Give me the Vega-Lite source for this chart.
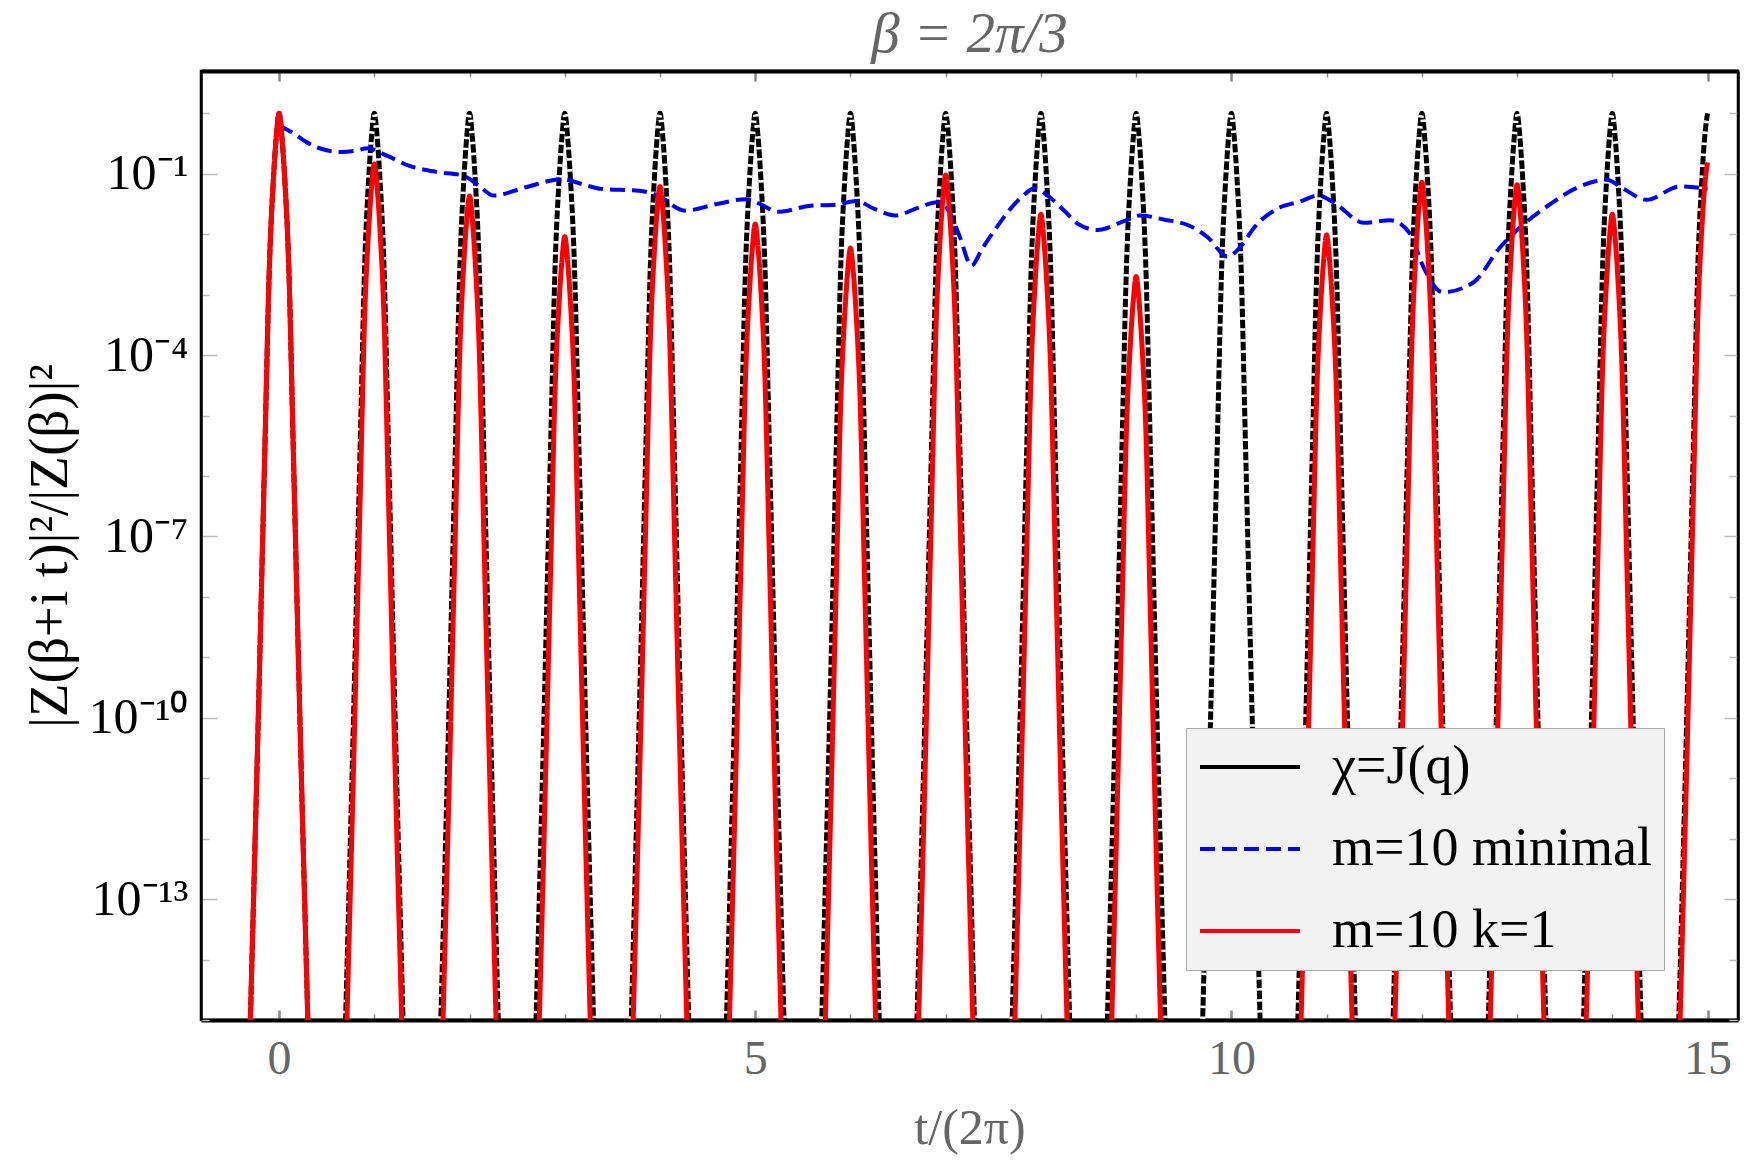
{
  "$schema": "https://vega.github.io/schema/vega-lite/v6.json",
  "width": 1537,
  "height": 949,
  "autosize": {"type": "none"},
  "padding": {"left": 201, "top": 71, "right": 12, "bottom": 143},
  "background": "white",
  "title": {
    "text": "β = 2π/3",
    "font": "Liberation Serif",
    "fontSize": 57,
    "fontStyle": "italic",
    "fontWeight": "normal",
    "color": "#666666",
    "anchor": "middle",
    "offset": 6
  },
  "config": {
    "view": {"stroke": "black", "strokeWidth": 2.5},
    "legend": {
      "orient": "none",
      "legendX": 985,
      "legendY": 657,
      "title": null,
      "fillColor": "#f2f2f2",
      "strokeColor": "#aaaaaa",
      "padding": 12,
      "symbolType": "M-1,0H3",
      "symbolSize": 2500,
      "symbolStrokeWidth": 4,
      "labelFont": "Liberation Serif",
      "labelFontSize": 54,
      "labelColor": "black",
      "labelOffset": 80,
      "labelLimit": 800,
      "rowPadding": 28
    }
  },
  "datasets": {
    "chi": [
      {"t": -0.4, "y": 1.58e-21}, {"t": -0.3, "y": 1.26e-15}, {"t": -0.22, "y": 7.94e-11}, {"t": -0.15, "y": 2.51e-6}, {"t": -0.1, "y": 3.55e-3}, {"t": -0.06, "y": 7.94e-2}, {"t": -0.03, "y": 0.398}, {"t": 0, "y": 1}, {"t": 0.03, "y": 0.398}, {"t": 0.06, "y": 7.94e-2}, {"t": 0.1, "y": 3.55e-3}, {"t": 0.15, "y": 2.51e-6}, {"t": 0.22, "y": 7.94e-11}, {"t": 0.3, "y": 1.26e-15}, {"t": 0.4, "y": 1.58e-21},
      {"t": 0.6, "y": 1.58e-21}, {"t": 0.7, "y": 1.26e-15}, {"t": 0.78, "y": 7.94e-11}, {"t": 0.85, "y": 2.51e-6}, {"t": 0.9, "y": 3.55e-3}, {"t": 0.94, "y": 7.94e-2}, {"t": 0.97, "y": 0.398}, {"t": 1, "y": 1}, {"t": 1.03, "y": 0.398}, {"t": 1.06, "y": 7.94e-2}, {"t": 1.1, "y": 3.55e-3}, {"t": 1.15, "y": 2.51e-6}, {"t": 1.22, "y": 7.94e-11}, {"t": 1.3, "y": 1.26e-15}, {"t": 1.4, "y": 1.58e-21},
      {"t": 1.6, "y": 1.58e-21}, {"t": 1.7, "y": 1.26e-15}, {"t": 1.78, "y": 7.94e-11}, {"t": 1.85, "y": 2.51e-6}, {"t": 1.9, "y": 3.55e-3}, {"t": 1.94, "y": 7.94e-2}, {"t": 1.97, "y": 0.398}, {"t": 2, "y": 1}, {"t": 2.03, "y": 0.398}, {"t": 2.06, "y": 7.94e-2}, {"t": 2.1, "y": 3.55e-3}, {"t": 2.15, "y": 2.51e-6}, {"t": 2.22, "y": 7.94e-11}, {"t": 2.3, "y": 1.26e-15}, {"t": 2.4, "y": 1.58e-21},
      {"t": 2.6, "y": 1.58e-21}, {"t": 2.7, "y": 1.26e-15}, {"t": 2.78, "y": 7.94e-11}, {"t": 2.85, "y": 2.51e-6}, {"t": 2.9, "y": 3.55e-3}, {"t": 2.94, "y": 7.94e-2}, {"t": 2.97, "y": 0.398}, {"t": 3, "y": 1}, {"t": 3.03, "y": 0.398}, {"t": 3.06, "y": 7.94e-2}, {"t": 3.1, "y": 3.55e-3}, {"t": 3.15, "y": 2.51e-6}, {"t": 3.22, "y": 7.94e-11}, {"t": 3.3, "y": 1.26e-15}, {"t": 3.4, "y": 1.58e-21},
      {"t": 3.6, "y": 1.58e-21}, {"t": 3.7, "y": 1.26e-15}, {"t": 3.78, "y": 7.94e-11}, {"t": 3.85, "y": 2.51e-6}, {"t": 3.9, "y": 3.55e-3}, {"t": 3.94, "y": 7.94e-2}, {"t": 3.97, "y": 0.398}, {"t": 4, "y": 1}, {"t": 4.03, "y": 0.398}, {"t": 4.06, "y": 7.94e-2}, {"t": 4.1, "y": 3.55e-3}, {"t": 4.15, "y": 2.51e-6}, {"t": 4.22, "y": 7.94e-11}, {"t": 4.3, "y": 1.26e-15}, {"t": 4.4, "y": 1.58e-21},
      {"t": 4.6, "y": 1.58e-21}, {"t": 4.7, "y": 1.26e-15}, {"t": 4.78, "y": 7.94e-11}, {"t": 4.85, "y": 2.51e-6}, {"t": 4.9, "y": 3.55e-3}, {"t": 4.94, "y": 7.94e-2}, {"t": 4.97, "y": 0.398}, {"t": 5, "y": 1}, {"t": 5.03, "y": 0.398}, {"t": 5.06, "y": 7.94e-2}, {"t": 5.1, "y": 3.55e-3}, {"t": 5.15, "y": 2.51e-6}, {"t": 5.22, "y": 7.94e-11}, {"t": 5.3, "y": 1.26e-15}, {"t": 5.4, "y": 1.58e-21},
      {"t": 5.6, "y": 1.58e-21}, {"t": 5.7, "y": 1.26e-15}, {"t": 5.78, "y": 7.94e-11}, {"t": 5.85, "y": 2.51e-6}, {"t": 5.9, "y": 3.55e-3}, {"t": 5.94, "y": 7.94e-2}, {"t": 5.97, "y": 0.398}, {"t": 6, "y": 1}, {"t": 6.03, "y": 0.398}, {"t": 6.06, "y": 7.94e-2}, {"t": 6.1, "y": 3.55e-3}, {"t": 6.15, "y": 2.51e-6}, {"t": 6.22, "y": 7.94e-11}, {"t": 6.3, "y": 1.26e-15}, {"t": 6.4, "y": 1.58e-21},
      {"t": 6.6, "y": 1.58e-21}, {"t": 6.7, "y": 1.26e-15}, {"t": 6.78, "y": 7.94e-11}, {"t": 6.85, "y": 2.51e-6}, {"t": 6.9, "y": 3.55e-3}, {"t": 6.94, "y": 7.94e-2}, {"t": 6.97, "y": 0.398}, {"t": 7, "y": 1}, {"t": 7.03, "y": 0.398}, {"t": 7.06, "y": 7.94e-2}, {"t": 7.1, "y": 3.55e-3}, {"t": 7.15, "y": 2.51e-6}, {"t": 7.22, "y": 7.94e-11}, {"t": 7.3, "y": 1.26e-15}, {"t": 7.4, "y": 1.58e-21},
      {"t": 7.6, "y": 1.58e-21}, {"t": 7.7, "y": 1.26e-15}, {"t": 7.78, "y": 7.94e-11}, {"t": 7.85, "y": 2.51e-6}, {"t": 7.9, "y": 3.55e-3}, {"t": 7.94, "y": 7.94e-2}, {"t": 7.97, "y": 0.398}, {"t": 8, "y": 1}, {"t": 8.03, "y": 0.398}, {"t": 8.06, "y": 7.94e-2}, {"t": 8.1, "y": 3.55e-3}, {"t": 8.15, "y": 2.51e-6}, {"t": 8.22, "y": 7.94e-11}, {"t": 8.3, "y": 1.26e-15}, {"t": 8.4, "y": 1.58e-21},
      {"t": 8.6, "y": 1.58e-21}, {"t": 8.7, "y": 1.26e-15}, {"t": 8.78, "y": 7.94e-11}, {"t": 8.85, "y": 2.51e-6}, {"t": 8.9, "y": 3.55e-3}, {"t": 8.94, "y": 7.94e-2}, {"t": 8.97, "y": 0.398}, {"t": 9, "y": 1}, {"t": 9.03, "y": 0.398}, {"t": 9.06, "y": 7.94e-2}, {"t": 9.1, "y": 3.55e-3}, {"t": 9.15, "y": 2.51e-6}, {"t": 9.22, "y": 7.94e-11}, {"t": 9.3, "y": 1.26e-15}, {"t": 9.4, "y": 1.58e-21},
      {"t": 9.6, "y": 1.58e-21}, {"t": 9.7, "y": 1.26e-15}, {"t": 9.78, "y": 7.94e-11}, {"t": 9.85, "y": 2.51e-6}, {"t": 9.9, "y": 3.55e-3}, {"t": 9.94, "y": 7.94e-2}, {"t": 9.97, "y": 0.398}, {"t": 10, "y": 1}, {"t": 10.03, "y": 0.398}, {"t": 10.06, "y": 7.94e-2}, {"t": 10.1, "y": 3.55e-3}, {"t": 10.15, "y": 2.51e-6}, {"t": 10.22, "y": 7.94e-11}, {"t": 10.3, "y": 1.26e-15}, {"t": 10.4, "y": 1.58e-21},
      {"t": 10.6, "y": 1.58e-21}, {"t": 10.7, "y": 1.26e-15}, {"t": 10.78, "y": 7.94e-11}, {"t": 10.85, "y": 2.51e-6}, {"t": 10.9, "y": 3.55e-3}, {"t": 10.94, "y": 7.94e-2}, {"t": 10.97, "y": 0.398}, {"t": 11, "y": 1}, {"t": 11.03, "y": 0.398}, {"t": 11.06, "y": 7.94e-2}, {"t": 11.1, "y": 3.55e-3}, {"t": 11.15, "y": 2.51e-6}, {"t": 11.22, "y": 7.94e-11}, {"t": 11.3, "y": 1.26e-15}, {"t": 11.4, "y": 1.58e-21},
      {"t": 11.6, "y": 1.58e-21}, {"t": 11.7, "y": 1.26e-15}, {"t": 11.78, "y": 7.94e-11}, {"t": 11.85, "y": 2.51e-6}, {"t": 11.9, "y": 3.55e-3}, {"t": 11.94, "y": 7.94e-2}, {"t": 11.97, "y": 0.398}, {"t": 12, "y": 1}, {"t": 12.03, "y": 0.398}, {"t": 12.06, "y": 7.94e-2}, {"t": 12.1, "y": 3.55e-3}, {"t": 12.15, "y": 2.51e-6}, {"t": 12.22, "y": 7.94e-11}, {"t": 12.3, "y": 1.26e-15}, {"t": 12.4, "y": 1.58e-21},
      {"t": 12.6, "y": 1.58e-21}, {"t": 12.7, "y": 1.26e-15}, {"t": 12.78, "y": 7.94e-11}, {"t": 12.85, "y": 2.51e-6}, {"t": 12.9, "y": 3.55e-3}, {"t": 12.94, "y": 7.94e-2}, {"t": 12.97, "y": 0.398}, {"t": 13, "y": 1}, {"t": 13.03, "y": 0.398}, {"t": 13.06, "y": 7.94e-2}, {"t": 13.1, "y": 3.55e-3}, {"t": 13.15, "y": 2.51e-6}, {"t": 13.22, "y": 7.94e-11}, {"t": 13.3, "y": 1.26e-15}, {"t": 13.4, "y": 1.58e-21},
      {"t": 13.6, "y": 1.58e-21}, {"t": 13.7, "y": 1.26e-15}, {"t": 13.78, "y": 7.94e-11}, {"t": 13.85, "y": 2.51e-6}, {"t": 13.9, "y": 3.55e-3}, {"t": 13.94, "y": 7.94e-2}, {"t": 13.97, "y": 0.398}, {"t": 14, "y": 1}, {"t": 14.03, "y": 0.398}, {"t": 14.06, "y": 7.94e-2}, {"t": 14.1, "y": 3.55e-3}, {"t": 14.15, "y": 2.51e-6}, {"t": 14.22, "y": 7.94e-11}, {"t": 14.3, "y": 1.26e-15}, {"t": 14.4, "y": 1.58e-21},
      {"t": 14.6, "y": 1.58e-21}, {"t": 14.7, "y": 1.26e-15}, {"t": 14.78, "y": 7.94e-11}, {"t": 14.85, "y": 2.51e-6}, {"t": 14.9, "y": 3.55e-3}, {"t": 14.94, "y": 7.94e-2}, {"t": 14.97, "y": 0.398}, {"t": 15, "y": 1}
    ],
    "kone": [
      {"t": -0.4, "y": 1.58e-21}, {"t": -0.3, "y": 1.26e-15}, {"t": -0.22, "y": 7.94e-11}, {"t": -0.15, "y": 2.51e-6}, {"t": -0.1, "y": 3.55e-3}, {"t": -0.06, "y": 7.94e-2}, {"t": -0.03, "y": 0.398}, {"t": 0, "y": 1}, {"t": 0.03, "y": 0.398}, {"t": 0.06, "y": 7.94e-2}, {"t": 0.1, "y": 3.55e-3}, {"t": 0.15, "y": 2.51e-6}, {"t": 0.22, "y": 7.94e-11}, {"t": 0.3, "y": 1.26e-15}, {"t": 0.4, "y": 1.58e-21},
      {"t": 0.6, "y": 2.291e-22}, {"t": 0.7, "y": 1.82e-16}, {"t": 0.78, "y": 1.148e-11}, {"t": 0.85, "y": 3.631e-7}, {"t": 0.9, "y": 5.129e-4}, {"t": 0.94, "y": 1.148e-2}, {"t": 0.97, "y": 5.754e-2}, {"t": 1, "y": 0.1445}, {"t": 1.03, "y": 5.754e-2}, {"t": 1.06, "y": 1.148e-2}, {"t": 1.1, "y": 5.129e-4}, {"t": 1.15, "y": 3.631e-7}, {"t": 1.22, "y": 1.148e-11}, {"t": 1.3, "y": 1.82e-16}, {"t": 1.4, "y": 2.291e-22},
      {"t": 1.6, "y": 6.761e-23}, {"t": 1.7, "y": 5.37e-17}, {"t": 1.78, "y": 3.388e-12}, {"t": 1.85, "y": 1.072e-7}, {"t": 1.9, "y": 1.514e-4}, {"t": 1.94, "y": 3.388e-3}, {"t": 1.97, "y": 1.698e-2}, {"t": 2, "y": 4.266e-2}, {"t": 2.03, "y": 1.698e-2}, {"t": 2.06, "y": 3.388e-3}, {"t": 2.1, "y": 1.514e-4}, {"t": 2.15, "y": 1.072e-7}, {"t": 2.22, "y": 3.388e-12}, {"t": 2.3, "y": 5.37e-17}, {"t": 2.4, "y": 6.761e-23},
      {"t": 2.6, "y": 1.445e-23}, {"t": 2.7, "y": 1.148e-17}, {"t": 2.78, "y": 7.244e-13}, {"t": 2.85, "y": 2.291e-8}, {"t": 2.9, "y": 3.236e-5}, {"t": 2.94, "y": 7.244e-4}, {"t": 2.97, "y": 3.631e-3}, {"t": 3, "y": 9.12e-3}, {"t": 3.03, "y": 3.631e-3}, {"t": 3.06, "y": 7.244e-4}, {"t": 3.1, "y": 3.236e-5}, {"t": 3.15, "y": 2.291e-8}, {"t": 3.22, "y": 7.244e-13}, {"t": 3.3, "y": 1.148e-17}, {"t": 3.4, "y": 1.445e-23},
      {"t": 3.6, "y": 9.772e-23}, {"t": 3.7, "y": 7.762e-17}, {"t": 3.78, "y": 4.898e-12}, {"t": 3.85, "y": 1.549e-7}, {"t": 3.9, "y": 2.188e-4}, {"t": 3.94, "y": 4.898e-3}, {"t": 3.97, "y": 2.455e-2}, {"t": 4, "y": 6.166e-2}, {"t": 4.03, "y": 2.455e-2}, {"t": 4.06, "y": 4.898e-3}, {"t": 4.1, "y": 2.188e-4}, {"t": 4.15, "y": 1.549e-7}, {"t": 4.22, "y": 4.898e-12}, {"t": 4.3, "y": 7.762e-17}, {"t": 4.4, "y": 9.772e-23},
      {"t": 4.6, "y": 2.344e-23}, {"t": 4.7, "y": 1.862e-17}, {"t": 4.78, "y": 1.175e-12}, {"t": 4.85, "y": 3.715e-8}, {"t": 4.9, "y": 5.248e-5}, {"t": 4.94, "y": 1.175e-3}, {"t": 4.97, "y": 5.888e-3}, {"t": 5, "y": 1.479e-2}, {"t": 5.03, "y": 5.888e-3}, {"t": 5.06, "y": 1.175e-3}, {"t": 5.1, "y": 5.248e-5}, {"t": 5.15, "y": 3.715e-8}, {"t": 5.22, "y": 1.175e-12}, {"t": 5.3, "y": 1.862e-17}, {"t": 5.4, "y": 2.344e-23},
      {"t": 5.6, "y": 9.333e-24}, {"t": 5.7, "y": 7.413e-18}, {"t": 5.78, "y": 4.677e-13}, {"t": 5.85, "y": 1.479e-8}, {"t": 5.9, "y": 2.089e-5}, {"t": 5.94, "y": 4.677e-4}, {"t": 5.97, "y": 2.344e-3}, {"t": 6, "y": 5.888e-3}, {"t": 6.03, "y": 2.344e-3}, {"t": 6.06, "y": 4.677e-4}, {"t": 6.1, "y": 2.089e-5}, {"t": 6.15, "y": 1.479e-8}, {"t": 6.22, "y": 4.677e-13}, {"t": 6.3, "y": 7.413e-18}, {"t": 6.4, "y": 9.333e-24},
      {"t": 6.6, "y": 1.514e-22}, {"t": 6.7, "y": 1.202e-16}, {"t": 6.78, "y": 7.586e-12}, {"t": 6.85, "y": 2.399e-7}, {"t": 6.9, "y": 3.388e-4}, {"t": 6.94, "y": 7.586e-3}, {"t": 6.97, "y": 3.802e-2}, {"t": 7, "y": 9.55e-2}, {"t": 7.03, "y": 3.802e-2}, {"t": 7.06, "y": 7.586e-3}, {"t": 7.1, "y": 3.388e-4}, {"t": 7.15, "y": 2.399e-7}, {"t": 7.22, "y": 7.586e-12}, {"t": 7.3, "y": 1.202e-16}, {"t": 7.4, "y": 1.514e-22},
      {"t": 7.6, "y": 3.388e-23}, {"t": 7.7, "y": 2.692e-17}, {"t": 7.78, "y": 1.698e-12}, {"t": 7.85, "y": 5.37e-8}, {"t": 7.9, "y": 7.586e-5}, {"t": 7.94, "y": 1.698e-3}, {"t": 7.97, "y": 8.511e-3}, {"t": 8, "y": 2.138e-2}, {"t": 8.03, "y": 8.511e-3}, {"t": 8.06, "y": 1.698e-3}, {"t": 8.1, "y": 7.586e-5}, {"t": 8.15, "y": 5.37e-8}, {"t": 8.22, "y": 1.698e-12}, {"t": 8.3, "y": 2.692e-17}, {"t": 8.4, "y": 3.388e-23},
      {"t": 8.6, "y": 3.162e-24}, {"t": 8.7, "y": 2.512e-18}, {"t": 8.78, "y": 1.585e-13}, {"t": 8.85, "y": 5.012e-9}, {"t": 8.9, "y": 7.079e-6}, {"t": 8.94, "y": 1.585e-4}, {"t": 8.97, "y": 7.943e-4}, {"t": 9, "y": 1.995e-3}, {"t": 9.03, "y": 7.943e-4}, {"t": 9.06, "y": 1.585e-4}, {"t": 9.1, "y": 7.079e-6}, {"t": 9.15, "y": 5.012e-9}, {"t": 9.22, "y": 1.585e-13}, {"t": 9.3, "y": 2.512e-18}, {"t": 9.4, "y": 3.162e-24},
      {"t": 10.6, "y": 1.549e-23}, {"t": 10.7, "y": 1.23e-17}, {"t": 10.78, "y": 7.762e-13}, {"t": 10.85, "y": 2.455e-8}, {"t": 10.9, "y": 3.467e-5}, {"t": 10.94, "y": 7.762e-4}, {"t": 10.97, "y": 3.89e-3}, {"t": 11, "y": 9.772e-3}, {"t": 11.03, "y": 3.89e-3}, {"t": 11.06, "y": 7.762e-4}, {"t": 11.1, "y": 3.467e-5}, {"t": 11.15, "y": 2.455e-8}, {"t": 11.22, "y": 7.762e-13}, {"t": 11.3, "y": 1.23e-17}, {"t": 11.4, "y": 1.549e-23},
      {"t": 11.6, "y": 1.148e-22}, {"t": 11.7, "y": 9.12e-17}, {"t": 11.78, "y": 5.754e-12}, {"t": 11.85, "y": 1.82e-7}, {"t": 11.9, "y": 2.57e-4}, {"t": 11.94, "y": 5.754e-3}, {"t": 11.97, "y": 2.884e-2}, {"t": 12, "y": 7.244e-2}, {"t": 12.03, "y": 2.884e-2}, {"t": 12.06, "y": 5.754e-3}, {"t": 12.1, "y": 2.57e-4}, {"t": 12.15, "y": 1.82e-7}, {"t": 12.22, "y": 5.754e-12}, {"t": 12.3, "y": 9.12e-17}, {"t": 12.4, "y": 1.148e-22},
      {"t": 12.6, "y": 1.047e-22}, {"t": 12.7, "y": 8.318e-17}, {"t": 12.78, "y": 5.248e-12}, {"t": 12.85, "y": 1.66e-7}, {"t": 12.9, "y": 2.344e-4}, {"t": 12.94, "y": 5.248e-3}, {"t": 12.97, "y": 2.63e-2}, {"t": 13, "y": 6.607e-2}, {"t": 13.03, "y": 2.63e-2}, {"t": 13.06, "y": 5.248e-3}, {"t": 13.1, "y": 2.344e-4}, {"t": 13.15, "y": 1.66e-7}, {"t": 13.22, "y": 5.248e-12}, {"t": 13.3, "y": 8.318e-17}, {"t": 13.4, "y": 1.047e-22},
      {"t": 13.6, "y": 3.388e-23}, {"t": 13.7, "y": 2.692e-17}, {"t": 13.78, "y": 1.698e-12}, {"t": 13.85, "y": 5.37e-8}, {"t": 13.9, "y": 7.586e-5}, {"t": 13.94, "y": 1.698e-3}, {"t": 13.97, "y": 8.511e-3}, {"t": 14, "y": 2.138e-2}, {"t": 14.03, "y": 8.511e-3}, {"t": 14.06, "y": 1.698e-3}, {"t": 14.1, "y": 7.586e-5}, {"t": 14.15, "y": 5.37e-8}, {"t": 14.22, "y": 1.698e-12}, {"t": 14.3, "y": 2.692e-17}, {"t": 14.4, "y": 3.388e-23},
      {"t": 14.6, "y": 2.455e-22}, {"t": 14.7, "y": 1.95e-16}, {"t": 14.78, "y": 1.23e-11}, {"t": 14.85, "y": 3.89e-7}, {"t": 14.9, "y": 5.495e-4}, {"t": 14.94, "y": 1.23e-2}, {"t": 14.97, "y": 6.166e-2}, {"t": 15, "y": 0.1549}
    ],
    "minimal": [
      {"t": 0, "y": 0.631}, {"t": 0.15, "y": 0.4677}, {"t": 0.29, "y": 0.3311}, {"t": 0.45, "y": 0.257}, {"t": 0.65, "y": 0.2291}, {"t": 0.8, "y": 0.2399}, {"t": 0.93, "y": 0.263}, {"t": 1.13, "y": 0.1995}, {"t": 1.37, "y": 0.1349}, {"t": 1.65, "y": 0.1072}, {"t": 1.93, "y": 9.333e-2}, {"t": 2.1, "y": 6.31e-2}, {"t": 2.25, "y": 4.365e-2}, {"t": 2.6, "y": 6.026e-2}, {"t": 2.97, "y": 8.128e-2}, {"t": 3.2, "y": 6.607e-2}, {"t": 3.38, "y": 5.623e-2}, {"t": 3.78, "y": 5.248e-2}, {"t": 3.98, "y": 4.365e-2}, {"t": 4.26, "y": 2.455e-2}, {"t": 4.6, "y": 3.162e-2}, {"t": 4.9, "y": 3.802e-2}, {"t": 5.05, "y": 3.162e-2}, {"t": 5.24, "y": 2.344e-2}, {"t": 5.58, "y": 2.951e-2}, {"t": 5.86, "y": 3.09e-2}, {"t": 6.06, "y": 3.548e-2}, {"t": 6.25, "y": 2.63e-2}, {"t": 6.47, "y": 2.042e-2}, {"t": 6.7, "y": 2.692e-2}, {"t": 6.91, "y": 3.388e-2}, {"t": 7.03, "y": 2.455e-2}, {"t": 7.15, "y": 8.913e-3}, {"t": 7.27, "y": 3.02e-3}, {"t": 7.38, "y": 5.623e-3}, {"t": 7.51, "y": 1.148e-2}, {"t": 7.83, "y": 4.571e-2}, {"t": 7.93, "y": 5.754e-2}, {"t": 8.07, "y": 4.365e-2}, {"t": 8.25, "y": 2.399e-2}, {"t": 8.39, "y": 1.479e-2}, {"t": 8.59, "y": 1.175e-2}, {"t": 8.88, "y": 1.66e-2}, {"t": 9.04, "y": 2.042e-2}, {"t": 9.3, "y": 1.738e-2}, {"t": 9.56, "y": 1.38e-2}, {"t": 9.75, "y": 8.913e-3}, {"t": 9.96, "y": 4.266e-3}, {"t": 10.1, "y": 6.31e-3}, {"t": 10.24, "y": 1.288e-2}, {"t": 10.48, "y": 2.63e-2}, {"t": 10.72, "y": 3.467e-2}, {"t": 10.91, "y": 4.365e-2}, {"t": 11.07, "y": 3.388e-2}, {"t": 11.39, "y": 1.549e-2}, {"t": 11.67, "y": 1.698e-2}, {"t": 11.88, "y": 1.0e-2}, {"t": 12.01, "y": 3.02e-3}, {"t": 12.22, "y": 1.096e-3}, {"t": 12.54, "y": 1.585e-3}, {"t": 12.82, "y": 6.026e-3}, {"t": 13.03, "y": 1.288e-2}, {"t": 13.35, "y": 3.162e-2}, {"t": 13.63, "y": 5.888e-2}, {"t": 13.94, "y": 7.943e-2}, {"t": 14.12, "y": 5.623e-2}, {"t": 14.36, "y": 3.715e-2}, {"t": 14.71, "y": 6.166e-2}, {"t": 15, "y": 5.623e-2}
    ]
  },
  "resolve": {"axis": {"x": "independent", "y": "independent"}},
  "layer": [
    {
      "data": {"name": "chi"},
      "mark": {"type": "line", "interpolate": "monotone", "strokeWidth": 5, "clip": true},
      "encoding": {
        "x": {
          "field": "t", "type": "quantitative",
          "scale": {"domain": [-0.82, 15.32], "nice": false, "zero": false},
          "axis": {
            "orient": "bottom",
            "values": [0, 1, 2, 3, 4, 5, 6, 7, 8, 9, 10, 11, 12, 13, 14, 15],
            "labelExpr": "datum.value % 5 === 0 ? datum.label : ''",
            "labelFont": "Liberation Serif", "labelFontSize": 48, "labelColor": "#666666",
            "labelAngle": 0, "labelFlush": false, "labelOverlap": false, "labelPadding": 25,
            "tickColor": "#888888",
            "tickSize": {"condition": {"test": "datum.value % 5 === 0", "value": -10}, "value": -6},
            "tickWidth": {"condition": {"test": "datum.value % 5 === 0", "value": 2.5}, "value": 1.5},
            "domainColor": "black", "domainWidth": 4, "grid": false,
            "title": "t/(2π)", "titleFont": "Liberation Serif", "titleFontSize": 50,
            "titleFontWeight": "normal", "titleColor": "#666666", "titlePadding": 16
          }
        },
        "y": {
          "field": "y", "type": "quantitative",
          "scale": {"type": "log", "domain": [1e-15, 5.012], "nice": false},
          "axis": {
            "orient": "left",
            "values": [1, 0.1, 0.01, 0.001, 1e-4, 1e-5, 1e-6, 1e-7, 1e-8, 1e-9, 1e-10, 1e-11, 1e-12, 1e-13, 1e-14, 1e-15],
            "labelExpr": "round(-log(datum.value)/LN10) == 1 ? '10⁻¹' : round(-log(datum.value)/LN10) == 4 ? '10⁻⁴' : round(-log(datum.value)/LN10) == 7 ? '10⁻⁷' : round(-log(datum.value)/LN10) == 10 ? '10⁻¹⁰' : round(-log(datum.value)/LN10) == 13 ? '10⁻¹³' : ''",
            "labelFont": "Liberation Serif", "labelFontSize": 50, "labelColor": "black",
            "labelFlush": false, "labelOverlap": false, "labelPadding": 29, "labelBaseline": "middle",
            "tickColor": "#bbbbbb", "tickWidth": 1.5,
            "tickSize": {"condition": {"test": "round(-log(datum.value)/LN10) % 3 == 1", "value": -16}, "value": -8},
            "domainColor": "black", "domainWidth": 2.5, "grid": false,
            "title": "|Z(β+i t)|²/|Z(β)|²", "titleFont": "Liberation Serif", "titleFontSize": 55,
            "titleFontWeight": "normal", "titleColor": "black", "titlePadding": 10
          }
        },
        "color": {
          "datum": "χ=J(q)", "type": "nominal",
          "scale": {"domain": ["χ=J(q)", "m=10 minimal", "m=10 k=1"], "range": ["#000000", "#0000ff", "#ff0000"]}
        },
        "strokeDash": {
          "datum": "χ=J(q)", "type": "nominal",
          "scale": {"domain": ["χ=J(q)", "m=10 minimal", "m=10 k=1"], "range": [[1, 0], [15, 7], [1, 0]]}
        }
      }
    },
    {
      "data": {"name": "chi"},
      "mark": {"type": "line", "interpolate": "monotone", "strokeWidth": 5.5, "color": "white", "strokeDash": [2.5, 8.5], "clip": true},
      "encoding": {
        "x": {
          "field": "t", "type": "quantitative",
          "scale": {"domain": [-0.82, 15.32], "nice": false, "zero": false},
          "axis": {
            "orient": "top",
            "values": [0, 1, 2, 3, 4, 5, 6, 7, 8, 9, 10, 11, 12, 13, 14, 15],
            "labels": false, "title": null,
            "tickColor": "#888888",
            "tickSize": {"condition": {"test": "datum.value % 5 === 0", "value": -10}, "value": -6},
            "tickWidth": {"condition": {"test": "datum.value % 5 === 0", "value": 2.5}, "value": 1.5},
            "domainColor": "black", "domainWidth": 4, "grid": false
          }
        },
        "y": {
          "field": "y", "type": "quantitative",
          "scale": {"type": "log", "domain": [1e-15, 5.012], "nice": false},
          "axis": {
            "orient": "right",
            "values": [1, 0.1, 0.01, 0.001, 1e-4, 1e-5, 1e-6, 1e-7, 1e-8, 1e-9, 1e-10, 1e-11, 1e-12, 1e-13, 1e-14, 1e-15],
            "labels": false, "title": null,
            "tickColor": "#bbbbbb", "tickWidth": 1.5,
            "tickSize": {"condition": {"test": "round(-log(datum.value)/LN10) % 3 == 1", "value": -14}, "value": -9},
            "domainColor": "black", "domainWidth": 2.5, "grid": false
          }
        }
      }
    },
    {
      "data": {"name": "minimal"},
      "mark": {"type": "line", "interpolate": "monotone", "strokeWidth": 4, "clip": true},
      "encoding": {
        "x": {"field": "t", "type": "quantitative", "scale": {"domain": [-0.82, 15.32], "nice": false, "zero": false}, "axis": null},
        "y": {"field": "y", "type": "quantitative", "scale": {"type": "log", "domain": [1e-15, 5.012], "nice": false}, "axis": null},
        "color": {"datum": "m=10 minimal", "type": "nominal"},
        "strokeDash": {"datum": "m=10 minimal", "type": "nominal"}
      }
    },
    {
      "data": {"name": "kone"},
      "mark": {"type": "line", "interpolate": "monotone", "strokeWidth": 5, "clip": true},
      "encoding": {
        "x": {"field": "t", "type": "quantitative", "scale": {"domain": [-0.82, 15.32], "nice": false, "zero": false}, "axis": null},
        "y": {"field": "y", "type": "quantitative", "scale": {"type": "log", "domain": [1e-15, 5.012], "nice": false}, "axis": null},
        "color": {"datum": "m=10 k=1", "type": "nominal"},
        "strokeDash": {"datum": "m=10 k=1", "type": "nominal"}
      }
    }
  ]
}
